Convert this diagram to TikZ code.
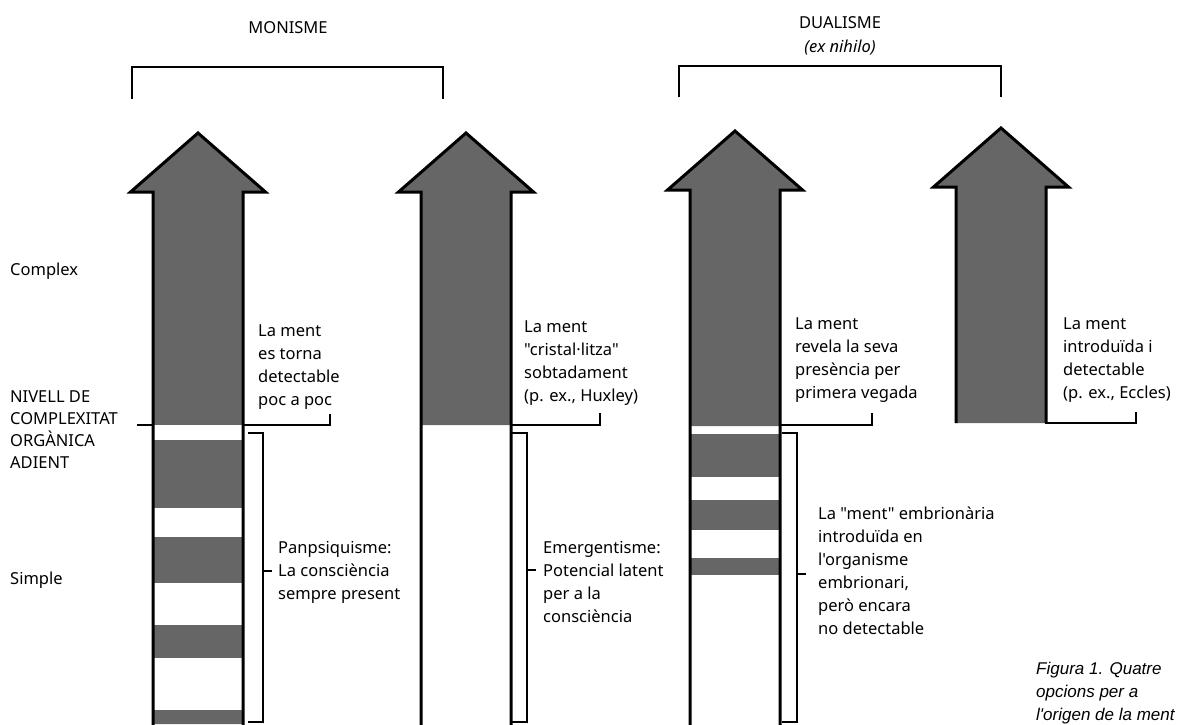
\documentclass[tikz,border=0pt]{standalone}
\usepackage{fontspec}
\setmainfont{Noto Sans}[Ligatures=TeXOff]
\newfontfamily\capfont{Liberation Sans}[Ligatures=TeXOff]
\usetikzlibrary{calc,positioning}
\definecolor{tone}{HTML}{666666}
\newcommand{\lblfont}{\fontsize{16.5}{23}\selectfont}

\begin{document}
\begin{tikzpicture}[x=1pt, y=-1pt]
  \useasboundingbox (0,0) rectangle (1177,724);
  \tikzset{
    mindfill/.style={fill=tone},
    arrowline/.style={line width=3pt, line join=miter},
    hookline/.style={line width=2pt},
    lbl/.style={anchor=base west, align=left, font=\lblfont, inner sep=0pt},
  }
  % arrow bodies
  \foreach \cx/\ty/\fb in {198/133/724, 466/133/425, 735/131/426, 1001/128/423}
    \fill[mindfill] (\cx-45,\fb) -- (\cx-45,\ty+59) -- (\cx-67.5,\ty+59) -- (\cx,\ty)
      -- (\cx+67.5,\ty+59) -- (\cx+45,\ty+59) -- (\cx+45,\fb) -- cycle;
  \foreach \a/\b in {425/440, 508/537, 583/625, 658/710}
    \fill[white] (153,\a) rectangle (243,\b);
  \foreach \a/\b in {434/477, 500/530, 558/575}
    \fill[mindfill] (690,\a) rectangle (780,\b);
  \foreach \cx/\ty/\lb in {198/133/726, 466/133/726, 735/131/726, 1001/128/423}
    \draw[arrowline] (\cx-45,\lb) -- (\cx-45,\ty+59) -- (\cx-67.5,\ty+59) -- (\cx,\ty)
      -- (\cx+67.5,\ty+59) -- (\cx+45,\ty+59) -- (\cx+45,\lb);

  % headings
  \node[font=\lblfont, anchor=base] (mon) at (288,33) {MONISME};
  \node[font=\lblfont, anchor=base] (dua) at (840,28) {DUALISME};
  \node[font=\lblfont\itshape, anchor=base] (nih) at (840,52) {(ex nihilo)};
  \coordinate (monL) at (132,99);
  \coordinate (monR) at (443,99);
  \coordinate (duaL) at (679,97);
  \coordinate (duaR) at (1001,97);
  \draw[hookline] (monL) -- ++(0,-32) -| (monR);
  \draw[hookline] (duaL) -- ++(0,-31) -| (duaR);

  % scale on the left (base = last line)
  \node[lbl] (cplx) at (10,275) {Complex};
  \node[lbl, font=\fontsize{16.5}{22}\selectfont] (lvl) at (10,468) {NIVELL DE\\COMPLEXITAT\\ORGÀNICA\\ADIENT};
  \node[lbl] (smpl) at (10,584) {Simple};
  \coordinate (lvltick) at (137,425);
  \draw[hookline] (lvltick) -- (153,425);

  % texts at the level
  \node[lbl] (t1) at (258,405) {La ment\\es torna\\detectable\\poc a poc};
  \node[lbl] (t2) at (524,401) {La ment\\"cristal·litza"\\sobtadament\\(p. ex., Huxley)};
  \node[lbl] (t3) at (795,398) {La ment\\revela la seva\\presència per\\primera vegada};
  \node[lbl] (t4) at (1063,398) {La ment\\introduïda i\\detectable\\(p. ex., Eccles)};
  \coordinate (a1) at (243,425);
  \coordinate (a2) at (510,425);
  \coordinate (a3) at (780,425);
  \coordinate (a4) at (1045,423);
  \coordinate (h1) at (330,414);
  \coordinate (h2) at (600,413);
  \coordinate (h3) at (872,413);
  \coordinate (h4) at (1136,412);
  \foreach \i in {1,...,4}
    \draw[hookline] (a\i) -| (h\i);

  % brackets below the level
  \node[lbl] (pan) at (278,599) {Panpsiquisme:\\La consciència\\sempre present};
  \node[lbl] (emg) at (543,622) {Emergentisme:\\Potencial latent\\per a la\\consciència};
  \node[lbl] (emb) at (818,634) {La "ment" embrionària\\introduïda en\\l'organisme\\embrionari,\\però encara\\no detectable};
  \foreach \bx/\by/\tx in {263/571/pan, 527/570/emg, 797/574/emb} {
    \draw[hookline] (\bx-15,433) -- (\bx,433) -- (\bx,722) -- (\bx-15,722);
    \draw[hookline] (\bx,\by) -- (\bx+9,\by);
  }

  % caption
  \node[anchor=base west, align=left, inner sep=0pt, font=\capfont\itshape\fontsize{17}{23}\selectfont] (cap) at (1036,720)
    {Figura 1. Quatre\\opcions per a\\l'origen de la ment};
\end{tikzpicture}
\end{document}
